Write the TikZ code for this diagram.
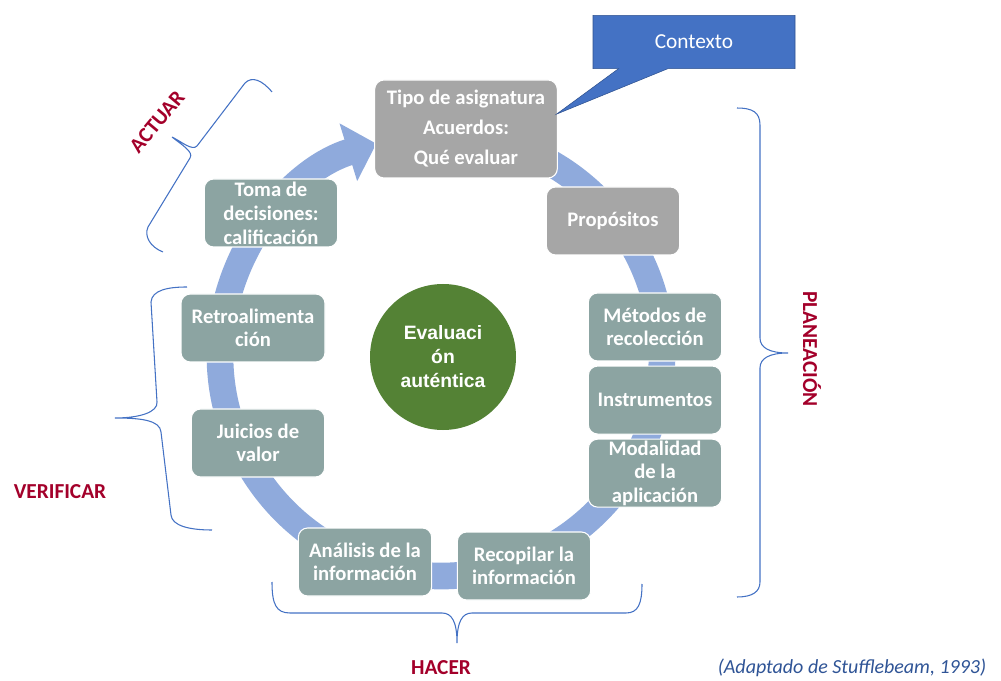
\documentclass[tikz,border=0pt]{standalone}
\usepackage{fontspec}
\setmainfont{Carlito}
\newfontfamily\arialfont{Liberation Sans}
\usetikzlibrary{arrows.meta, positioning, shapes.callouts}

\definecolor{ringblue}{RGB}{143,170,220}
\definecolor{boxgray}{RGB}{166,166,166}
\definecolor{boxteal}{RGB}{140,164,162}
\definecolor{evalgreen}{RGB}{84,130,53}
\definecolor{ctxblue}{RGB}{68,114,196}
\definecolor{ctxborder}{RGB}{47,82,143}
\definecolor{labelred}{RGB}{163,0,42}
\definecolor{citeblue}{RGB}{47,84,150}

\begin{document}
\begin{tikzpicture}[x=0.75pt, y=-0.75pt,
    box/.style={rounded corners=7pt, fill=boxteal, draw=white, line width=0.8pt,
        text=white, align=center, font=\bfseries\fontsize{15.5}{17.5}\selectfont,
        minimum width=100pt, minimum height=51pt, inner sep=1pt},
    greybox/.style={box, fill=boxgray},
    phase/.style={text=labelred, font=\bfseries\fontsize{16}{19}\selectfont},
    phasebrace/.style={draw=ctxblue, line width=0.8pt},
    ring/.style={draw=ringblue, line width=20pt, -{Triangle[width=44pt, length=22pt]}}]
    \useasboundingbox (0,0) rectangle (1001,681);

    % the cycle
    \coordinate (Center) at (441,355);
    \draw[ring] ([shift={(-80:221)}]Center) arc[start angle=-80, end angle=253, radius=221];

    \node[greybox, minimum width=137pt, minimum height=73.5pt,
          font=\bfseries\fontsize{15.5}{22.5}\selectfont] (Tipo) at (466,129)
          {Tipo de asignatura\\Acuerdos:\\Qué evaluar};
    \node[greybox] (Propositos) at (613,221) {Propósitos};
    \node[box]     (Metodos)    at (655,327) {Métodos de\\recolección};
    \node[box, below=3pt of Metodos]      (Instrumentos) {Instrumentos};
    \node[box, below=3pt of Instrumentos] (Modalidad)    {Modalidad\\de la\\aplicación};
    \node[box]     (Recopilar)  at (524,566) {Recopilar la\\información};
    \node[box]     (Analisis)   at (365,562) {Análisis de la\\información};
    \node[box]     (Juicios)    at (258,443) {Juicios de\\valor};
    \node[box, minimum width=108pt] (Retro) at (253,328) {Retroalimenta\\ción};
    \node[box, font=\bfseries\fontsize{15.5}{18}\selectfont] (Toma) at (271,213)
          {Toma de\\decisiones:\\calificación};

    \node[circle, fill=evalgreen, minimum size=109.5pt, text=white, align=center,
          font=\arialfont\bfseries\fontsize{14.5}{18}\selectfont] (Eval) at (443,357)
          {Evaluaci\\ón\\auténtica};

    \node[rectangle callout, fill=ctxblue, draw=ctxborder, text=white,
          minimum width=151.5pt, minimum height=40pt, callout pointer width=37pt,
          font=\fontsize{16}{19}\selectfont,
          callout absolute pointer={([xshift=-1pt, yshift=-26pt]Tipo.north east)}] (Contexto) at (694,42) {Contexto};

    % phases
    \draw[phasebrace] (272,92) .. controls (262,80) and (252,76) .. (245,83) -- (197,146)
        .. controls (192,151) and (182,142) .. (172,137)
        .. controls (182,145) and (194,152) .. (190,158) -- (148,227)
        .. controls (144,236) and (150,247) .. (163,252);
    \draw[phasebrace] (737,108) .. controls (752,108) and (760,112) .. (760,125) -- (760,338)
        .. controls (760,348) and (770,353) .. (788,353)
        .. controls (770,353) and (760,358) .. (760,368) -- (760,582)
        .. controls (760,592) and (752,597) .. (737,597);
    \draw[phasebrace] (272,582) .. controls (272,604) and (276,613) .. (290,613) -- (442,613)
        .. controls (452,613) and (457,622) .. (457,643)
        .. controls (457,622) and (462,613) .. (472,613) -- (626,613)
        .. controls (638,613) and (642,604) .. (642,584);
    \draw[phasebrace] (187,287) .. controls (168,287) and (152,290) .. (151,302) -- (157,402)
        .. controls (158,412) and (140,418) .. (115,418)
        .. controls (140,418) and (160,420) .. (161,432) -- (171,515)
        .. controls (172,526) and (190,530) .. (212,530);

    \node[phase, rotate=50]  (Actuar)     at (157,122) {ACTUAR};
    \node[phase, rotate=-90] (Planeacion) at (812,349) {PLANEACIÓN};
    \node[phase]             (Verificar)  at (60,492)  {VERIFICAR};
    \node[phase]             (Hacer)      at (441,668) {HACER};
    \node[text=citeblue, font=\itshape\fontsize{15}{18}\selectfont] (Fuente) at (852,668)
        {(Adaptado de Stufflebeam, 1993)};
\end{tikzpicture}
\end{document}
